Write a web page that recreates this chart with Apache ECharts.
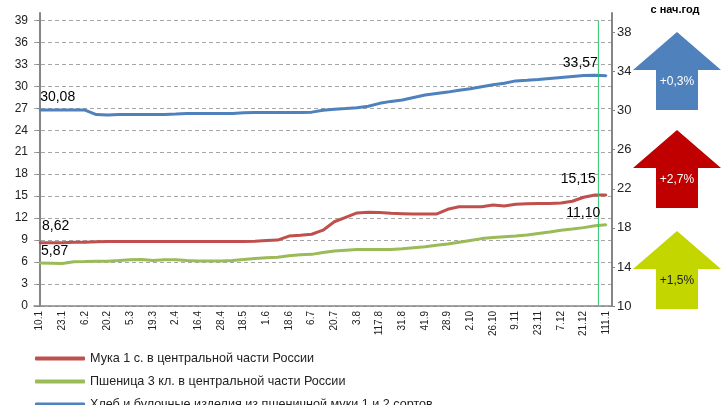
<!DOCTYPE html>
<html>
<head>
<meta charset="utf-8">
<script src="https://cdn.jsdelivr.net/npm/echarts@6/dist/echarts.min.js"></script>
<style>
  html, body { margin: 0; padding: 0; background: #fff; }
  #chart { width: 728px; height: 405px; }
</style>
</head>
<body>
<div id="chart"></div>
<script>
// даты (подписи через одну)
const categories = [
  '10.1', '16.1', '23.1', '30.1', '6.2', '13.2', '20.2', '27.2', '5.3', '12.3',
  '19.3', '26.3', '2.4', '9.4', '16.4', '22.4', '28.4', '7.5', '18.5', '25.5',
  '1.6', '11.6', '18.6', '25.6', '6.7', '13.7', '20.7', '27.7', '3.8', '10.8',
  '117.8', '24.8', '31.8', '7.9', '41.9', '21.9', '28.9', '5.10', '2.10', '19.10',
  '26.10', '2.11', '9.11', '16.11', '23.11', '30.11', '7.12', '14.12', '21.12', '28.12',
  '111.1'
]

const flour = [
  8.62, 8.62, 8.65, 8.7, 8.7, 8.78, 8.8, 8.8, 8.8, 8.8,
  8.8, 8.8, 8.8, 8.8, 8.8, 8.8, 8.8, 8.8, 8.82, 8.85,
  8.95, 9.0, 9.55, 9.65, 9.8, 10.35, 11.5, 12.1, 12.7, 12.8,
  12.75, 12.65, 12.6, 12.55, 12.55, 12.55, 13.2, 13.55, 13.55, 13.55,
  13.8, 13.65, 13.9, 13.95, 14.0, 14.0, 14.05, 14.3, 14.85, 15.15,
  15.15
]

const wheat = [
  5.87, 5.85, 5.8, 6.05, 6.08, 6.12, 6.12, 6.2, 6.3, 6.35,
  6.2, 6.3, 6.3, 6.2, 6.15, 6.15, 6.15, 6.2, 6.35, 6.5,
  6.6, 6.65, 6.85, 7.0, 7.05, 7.3, 7.5, 7.6, 7.7, 7.7,
  7.7, 7.7, 7.8, 7.95, 8.1, 8.3, 8.45, 8.7, 8.95, 9.2,
  9.35, 9.45, 9.55, 9.7, 9.9, 10.1, 10.35, 10.5, 10.7, 10.95,
  11.1
]

// хлеб - по правой оси
const bread = [
  30.08, 30.08, 30.08, 30.08, 30.06, 29.6, 29.55, 29.6, 29.62, 29.62,
  29.62, 29.62, 29.65, 29.72, 29.72, 29.72, 29.72, 29.72, 29.78, 29.8,
  29.8, 29.8, 29.8, 29.8, 29.85, 30.05, 30.15, 30.22, 30.3, 30.45,
  30.75, 30.95, 31.1, 31.35, 31.6, 31.75, 31.9, 32.1, 32.25, 32.45,
  32.65, 32.8, 33.05, 33.12, 33.2, 33.3, 33.4, 33.5, 33.6, 33.63,
  33.57
]

const leftTicks = [0, 3, 6, 9, 12, 15, 18, 21, 24, 27, 30, 33, 36, 39]
const rightTicks = [10, 14, 18, 22, 26, 30, 34, 38]

// начало года (1.1) между 28.12 и 11.1
const yearStartPos = 49.3

const names = [
  'Мука 1 с. в центральной части России',
  'Пшеница 3 кл. в центральной части России',
  'Хлеб и булочные изделия из пшеничной муки 1 и 2 сортов'
]
const colors = ['#C0504D', '#9BBB59', '#4F81BD']

// изменения с начала года
const changes = ['+0,3%', '+2,7%', '+1,5%']

const fmt = v => v.toFixed(2).replace('.', ',')
const labelFont = { fontFamily: 'Liberation Sans', fontSize: 14, color: '#000' }

// подписи только у первой и последней точки
function withEndLabels(vals, firstOffset, lastOffset) {
  const last = vals.length - 1
  return vals.map((v, i) => {
    if (i !== 0 && i !== last) return v
    return {
      value: v,
      label: Object.assign({
        show: true,
        position: 'top',
        offset: i === 0 ? firstOffset : lastOffset,
        formatter: p => fmt(p.value)
      }, labelFont)
    }
  })
}

function arrow(top, color, text, textColor) {
  const cx = 677
  return [
    {
      type: 'polygon',
      shape: {
        points: [[cx, top], [cx + 44, top + 38], [cx + 21, top + 38], [cx + 21, top + 78],
          [cx - 21, top + 78], [cx - 21, top + 38], [cx - 44, top + 38]]
      },
      style: { fill: color }
    },
    {
      type: 'text',
      x: cx, y: top + 50,
      style: {
        text: text, fill: textColor, align: 'center', verticalAlign: 'middle',
        font: '12px "Liberation Sans"'
      }
    }
  ]
}

// по легенде на строку, последняя обрезана снизу как в оригинале
function legendRow(i, top) {
  return {
    data: [names[i]],
    left: 35,
    top: top,
    padding: 0,
    icon: 'roundRect',
    itemWidth: 50,
    itemHeight: 4,
    textStyle: { fontFamily: 'Liberation Sans', fontSize: 12.6, color: '#222' }
  }
}

function lineSeries(i, vals, firstOffset, lastOffset, yAxisIndex) {
  return {
    name: names[i],
    type: 'line',
    yAxisIndex: yAxisIndex,
    symbol: 'circle',
    symbolSize: 2,
    showSymbol: true,
    color: colors[i],
    lineStyle: { width: 3 },
    data: withEndLabels(vals, firstOffset, lastOffset)
  }
}

const chart = echarts.init(document.getElementById('chart'))

const options = {
  animation: false,
  textStyle: { fontFamily: 'Liberation Sans' },
  grid: { left: 34, right: 116, top: 13, bottom: 99 },
  legend: [legendRow(0, 352), legendRow(1, 375), legendRow(2, 398)],
  xAxis: [
    {
      type: 'category',
      data: categories,
      boundaryGap: true,
      axisLine: { lineStyle: { color: '#868686', width: 1.5 } },
      axisTick: { interval: 1, length: 4, lineStyle: { color: '#868686' } },
      axisLabel: { interval: 1, rotate: 90, fontSize: 10, color: '#222', margin: 5 }
    },
    {
      type: 'value', min: -0.5, max: 50.5, show: false
    }
  ],
  yAxis: [
    {
      type: 'value',
      min: 0,
      max: 40,
      axisLine: { show: true, lineStyle: { color: '#868686', width: 2 } },
      axisTick: { show: true, length: 3, customValues: leftTicks, lineStyle: { color: '#868686' } },
      axisLabel: { customValues: leftTicks, fontSize: 12, color: '#222', margin: 6 },
      splitLine: { lineStyle: { color: '#A6A6A6', type: [4, 3] } }
    },
    {
      type: 'value',
      min: 10,
      max: 40,
      position: 'right',
      axisLine: { show: true, lineStyle: { color: '#868686', width: 2 } },
      axisTick: { show: true, length: 3, customValues: rightTicks, lineStyle: { color: '#868686' } },
      axisLabel: { customValues: rightTicks, fontSize: 13, color: '#222', margin: 5 },
      splitLine: { show: false }
    }
  ],
  series: [
    lineSeries(0, flour, [16, -4], [-28, -3], 0),
    lineSeries(1, wheat, [15, 1], [-23, 1], 0),
    lineSeries(2, bread, [18, 0], [-26, 0], 1),
    {
      name: 'year',
      type: 'line',
      xAxisIndex: 1,
      symbol: 'none',
      silent: true,
      color: '#2EC26A',
      lineStyle: { width: 1 },
      data: [[yearStartPos, 0], [yearStartPos, 39]]
    }
  ],
  graphic: [
    {
      type: 'text',
      x: 675, y: 10,
      style: {
        text: 'с нач.год', fill: '#000', align: 'center', verticalAlign: 'middle',
        font: 'bold 11px "Liberation Sans"'
      }
    }
  ]
    .concat(arrow(32, colors[2], changes[0], '#fff'))
    .concat(arrow(130, '#C00000', changes[1], '#fff'))
    .concat(arrow(231, '#C4D600', changes[2], '#222'))
}

chart.setOption(options)
</script>
</body>
</html>
